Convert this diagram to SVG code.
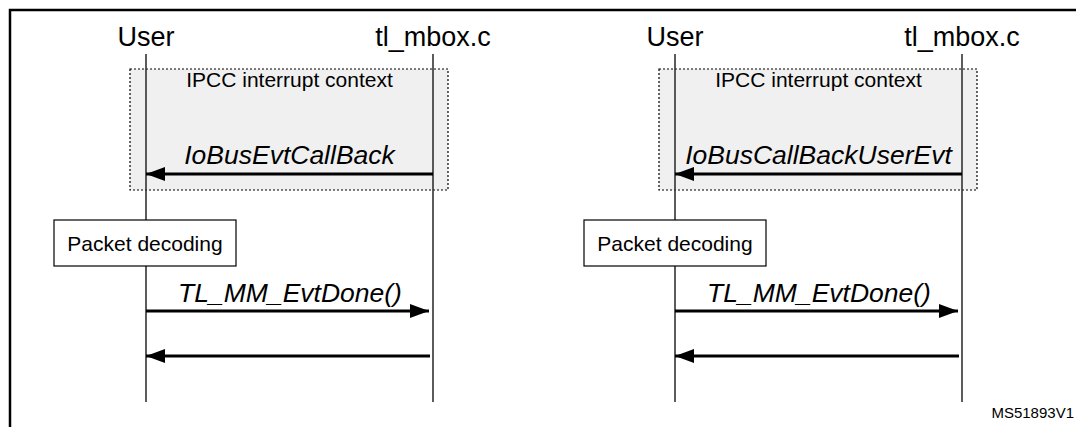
<svg xmlns="http://www.w3.org/2000/svg" width="1076" height="427" viewBox="0 0 1076 427">
<style>
.hdr{font-family:"Liberation Sans",Arial,sans-serif;font-size:27px;fill:#000;text-anchor:middle}
.ctx{font-family:"Liberation Sans",Arial,sans-serif;font-size:21px;fill:#000;text-anchor:middle}
.msg{font-family:"Liberation Sans",Arial,sans-serif;font-size:26.5px;font-style:italic;fill:#000;text-anchor:middle}
.pk{font-family:"Liberation Sans",Arial,sans-serif;font-size:21px;fill:#000;text-anchor:middle}
.ref{font-family:"Liberation Sans",Arial,sans-serif;font-size:15px;fill:#000;text-anchor:end}
.life{stroke:#333;stroke-width:1.6;fill:none}
.ctxbox{fill:#f0f0f0;stroke:#000;stroke-width:1.2;stroke-dasharray:2 2}
.act{fill:#fff;stroke:#000;stroke-width:1.2}
.arr{stroke:#000;stroke-width:3;fill:none}
.frame{stroke:#000;stroke-width:2.5;fill:none}
</style>
<defs>
<marker id="ah" markerUnits="userSpaceOnUse" markerWidth="20" markerHeight="14" refX="19" refY="7" orient="auto">
<path d="M0,0 L19,7 L0,14 Z" fill="#000"/>
</marker>
</defs>
<rect width="1076" height="427" fill="#fff"/>
<g id="frame">
<path class="frame" d="M10,427 V10 H1076"/>
</g>
<g id="context-left">
<rect class="ctxbox" x="130" y="69" width="318" height="121"/>
<text class="ctx" x="289.5" y="87">IPCC interrupt context</text>
</g>
<g id="context-right">
<rect class="ctxbox" x="659" y="69" width="318" height="121"/>
<text class="ctx" x="818.5" y="87">IPCC interrupt context</text>
</g>
<g id="user-left">
<text class="hdr" x="146" y="46">User</text>
<line class="life" x1="146" y1="54" x2="146" y2="402"/>
</g>
<g id="mbox-left">
<text class="hdr" x="433" y="46">tl_mbox.c</text>
<line class="life" x1="433" y1="54" x2="433" y2="402"/>
</g>
<g id="user-right">
<text class="hdr" x="675" y="46">User</text>
<line class="life" x1="675" y1="54" x2="675" y2="402"/>
</g>
<g id="mbox-right">
<text class="hdr" x="962" y="46">tl_mbox.c</text>
<line class="life" x1="962" y1="54" x2="962" y2="402"/>
</g>
<g id="decode-left">
<rect class="act" x="54" y="220" width="182" height="46"/>
<text class="pk" x="145" y="251">Packet decoding</text>
</g>
<g id="decode-right">
<rect class="act" x="584" y="220" width="182" height="46"/>
<text class="pk" x="675" y="251">Packet decoding</text>
</g>
<g id="connectors">
<line class="arr" x1="433" y1="174" x2="146" y2="174" marker-end="url(#ah)"/>
<line class="arr" x1="146" y1="311" x2="429" y2="311" marker-end="url(#ah)"/>
<line class="arr" x1="430" y1="356" x2="146" y2="356" marker-end="url(#ah)"/>
<line class="arr" x1="962" y1="174" x2="675" y2="174" marker-end="url(#ah)"/>
<line class="arr" x1="675" y1="311" x2="958" y2="311" marker-end="url(#ah)"/>
<line class="arr" x1="959" y1="356" x2="675" y2="356" marker-end="url(#ah)"/>
</g>
<g id="labels">
<text class="msg" x="289.5" y="164">IoBusEvtCallBack</text>
<text class="msg" x="818.5" y="164">IoBusCallBackUserEvt</text>
<text class="msg" x="290" y="302">TL_MM_EvtDone()</text>
<text class="msg" x="819" y="302">TL_MM_EvtDone()</text>
</g>
<text class="ref" x="1074" y="418">MS51893V1</text>
</svg>
